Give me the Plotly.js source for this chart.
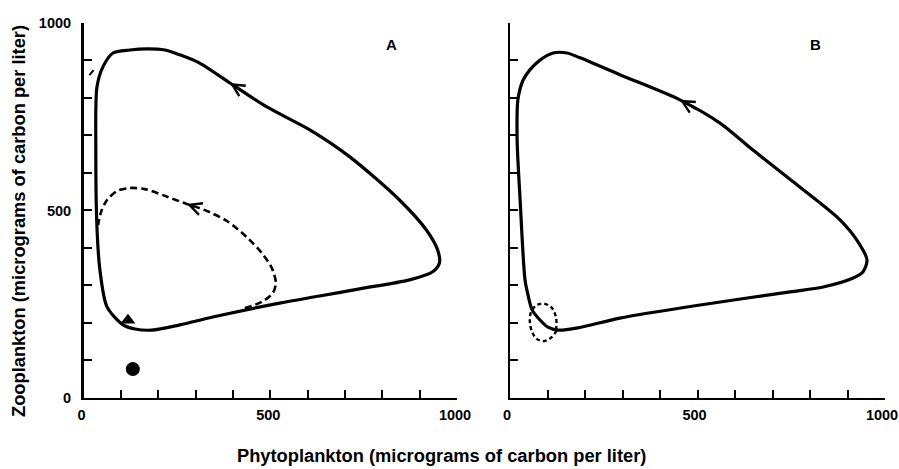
<!DOCTYPE html>
<html>
<head>
<meta charset="utf-8">
<script src="https://cdn.plot.ly/plotly-3.0.1.min.js"></script>
<style>html,body{margin:0;padding:0;background:#fff;}#chart{width:899px;height:469px;}</style>
</head>
<body>
<div id="chart"></div>
<script>
// ---- Data ----
const tickVals = [0, 100, 200, 300, 400, 500, 600, 700, 800, 900, 1000];
const tickTextLabeled = ['<b>0</b>', '', '', '', '', '<b>500</b>', '', '', '', '', '<b>1000</b>'];
const tickTextBlank = ['', '', '', '', '', '', '', '', '', '', ''];

// Panel A: limit cycle (solid)
const aCycleX = [36, 52, 79, 124, 170, 218, 258, 311, 392, 491, 606, 713, 846, 918, 948, 953, 934, 873, 739, 632, 525, 346, 258, 183, 138, 106, 63, 44, 36, 33, 36];
const aCycleY = [829, 883, 920, 928, 931, 928, 915, 893, 840, 776, 715, 643, 528, 448, 395, 360, 336, 315, 291, 272, 253, 216, 195, 181, 184, 195, 243, 341, 456, 661, 829];
// Panel A: transient trajectory (dashed)
const aDashX = [432, 477, 507, 515, 504, 477, 437, 384, 325, 277, 218, 164, 124, 90, 63, 47, 39];
const aDashY = [240, 256, 280, 307, 347, 387, 429, 472, 501, 517, 539, 557, 560, 552, 528, 496, 461];
// Panel A: short stray trajectory stroke near the axis
const aStrokeX = [16, 27];
const aStrokeY = [861, 874];
// Panel A: starting point (triangle) and equilibrium (dot)
const aStartX = [119];
const aStartY = [207];
const aEquilX = [132];
const aEquilY = [77];

// Panel B: limit cycle (solid)
const bCycleX = [21, 35, 53, 80, 115, 152, 187, 293, 453, 560, 648, 739, 827, 880, 925, 952, 941, 915, 835, 747, 507, 293, 181, 128, 101, 80, 59, 48, 40, 27, 19, 21];
const bCycleY = [795, 848, 875, 901, 920, 920, 907, 862, 795, 733, 661, 589, 520, 475, 421, 368, 336, 320, 296, 283, 248, 213, 187, 181, 189, 208, 235, 275, 315, 528, 688, 795];
// Panel B: small dashed loop
const bDashX = [123, 123, 112, 93, 72, 56, 53, 59, 72, 93, 112, 125];
const bDashY = [181, 213, 240, 251, 248, 229, 203, 176, 157, 152, 163, 181];

// Direction arrows: head and tail positions, and the panel they belong to
const arrowHeadX = [392, 277, 453];
const arrowHeadY = [840, 517, 795];
const arrowTailX = [440, 300, 500];
const arrowTailY = [810, 509, 768];
const arrowAxis = ['x', 'x', 'x2'];

// ---- Styling ----
const fontFam = '"Liberation Sans", Arial, Helvetica, sans-serif';
const tickFont = {family: fontFam, size: 14.5, color: '#000', weight: 700};

const traces = [
  {x: aCycleX, y: aCycleY, xaxis: 'x', yaxis: 'y', mode: 'lines', line: {color: '#000', width: 3.2, shape: 'spline', smoothing: 0.8}, hoverinfo: 'skip'},
  {x: aDashX, y: aDashY, xaxis: 'x', yaxis: 'y', mode: 'lines', line: {color: '#000', width: 2.6, dash: '7px,4px', shape: 'spline', smoothing: 0.8}, hoverinfo: 'skip'},
  {x: aStrokeX, y: aStrokeY, xaxis: 'x', yaxis: 'y', mode: 'lines', line: {color: '#000', width: 2}, hoverinfo: 'skip'},
  {x: aStartX, y: aStartY, xaxis: 'x', yaxis: 'y', mode: 'markers', marker: {symbol: 'triangle-up', size: 13, color: '#000'}, hoverinfo: 'skip'},
  {x: aEquilX, y: aEquilY, xaxis: 'x', yaxis: 'y', mode: 'markers', marker: {symbol: 'circle', size: 14, color: '#000'}, hoverinfo: 'skip'},
  {x: bCycleX, y: bCycleY, xaxis: 'x2', yaxis: 'y2', mode: 'lines', line: {color: '#000', width: 3.2, shape: 'spline', smoothing: 0.8}, hoverinfo: 'skip'},
  {x: bDashX, y: bDashY, xaxis: 'x2', yaxis: 'y2', mode: 'lines', line: {color: '#000', width: 2.4, dash: '4px,3px', shape: 'spline', smoothing: 1}, hoverinfo: 'skip'}
];

function axisBase(extra) {
  return Object.assign({
    range: [0, 1000], showgrid: false, zeroline: false,
    showline: true, linecolor: '#000', linewidth: 2.5, mirror: false,
    ticks: 'inside', ticklen: 8, tickwidth: 2, tickcolor: '#000',
    tickmode: 'array', tickvals: tickVals, tickfont: tickFont, fixedrange: true,
    ticklabeloverflow: 'allow'
  }, extra);
}

const yDom = [0.1514, 0.951];
const annotations = [];
for (let i = 0; i < arrowHeadX.length; i++) {
  const ax = arrowAxis[i];
  const ay = ax === 'x' ? 'y' : 'y2';
  annotations.push({
    x: arrowHeadX[i], y: arrowHeadY[i], ax: arrowTailX[i], ay: arrowTailY[i],
    xref: ax, yref: ay, axref: ax, ayref: ay,
    showarrow: true, arrowhead: 5, arrowsize: 1.2, arrowwidth: 2, arrowcolor: '#000', text: ''
  });
}
const titleFont = {family: fontFam, size: 18.3, weight: 700, color: '#000'};
const labelFont = {family: fontFam, size: 15, weight: 700, color: '#000'};
function textNote(text, px, py, font, angle) {
  return {text: text, xref: 'paper', yref: 'paper', x: px / 899, y: 1 - py / 469,
    xanchor: 'center', yanchor: 'middle', showarrow: false, font: font, textangle: angle || 0};
}
annotations.push(
  textNote('<b>A</b>', 391, 45, labelFont),
  textNote('<b>B</b>', 815, 45, labelFont),
  textNote('<b>Phytoplankton (micrograms of carbon per liter)</b>', 441, 455, titleFont),
  textNote('<b>Zooplankton (micrograms of carbon per liter)</b>', 18, 221, titleFont, -90)
);

const layout = {
  width: 899, height: 469,
  margin: {l: 0, r: 0, t: 0, b: 0},
  paper_bgcolor: '#fff', plot_bgcolor: '#fff',
  showlegend: false,
  xaxis: axisBase({domain: [83.5 / 899, 457 / 899], anchor: 'y', ticktext: tickTextLabeled, ticklabelshift: -2, ticklabelstandoff: 2}),
  yaxis: axisBase({domain: yDom, anchor: 'x', ticktext: tickTextLabeled, ticklabelstandoff: 7}),
  xaxis2: axisBase({domain: [510 / 899, 885 / 899], anchor: 'y2', ticktext: tickTextLabeled, ticklabelshift: -3, ticklabelstandoff: 2}),
  yaxis2: axisBase({domain: yDom, anchor: 'x2', ticktext: tickTextBlank}),
  annotations: annotations
};

Plotly.newPlot('chart', traces, layout, {staticPlot: true, displayModeBar: false});
</script>
</body>
</html>
